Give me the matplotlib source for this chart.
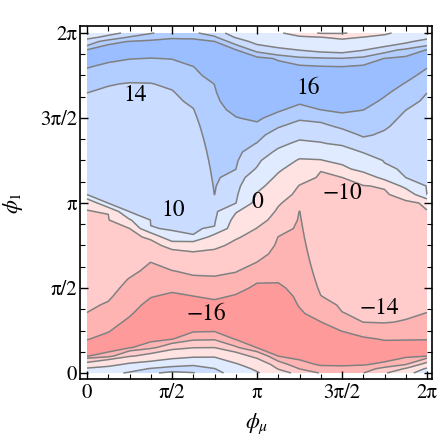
import numpy as np
import matplotlib
matplotlib.use('Agg')
import matplotlib.pyplot as plt
from matplotlib.ticker import FixedLocator

PI = np.pi

# grid rows: phi_1 / pi, from bottom (0) to top (2)
phi1_over_pi = [0, 0.025, 0.05, 0.1, 0.15, 0.2, 0.25, 0.3, 0.35, 0.4, 0.45,
                0.5, 0.55, 0.6, 0.65, 0.7, 0.75, 0.8, 0.85, 0.9, 0.95, 1.0,
                1.05, 1.1, 1.15, 1.2, 1.25, 1.3, 1.35, 1.4, 1.45, 1.5, 1.55,
                1.6, 1.65, 1.7, 1.75, 1.8, 1.85, 1.9, 1.95, 1.975, 2.0]

# grid columns: phi_mu / pi
phimu_over_pi = [0, 0.125, 0.25, 0.375, 0.5, 0.625, 0.75, 0.875, 1.0,
                 1.125, 1.25, 1.375, 1.5, 1.625, 1.75, 1.875, 2.0]

# values, one list per phi_mu column (bottom -> top)
mu_0_8 = [5, 1.5, -8, -16.1, -17, -15.9, -15.35, -14.7, -14.04, -13.69, -13.37,
          -13.04, -12.71, -12.38, -12.06, -11.73, -11.4, -11.08, -10.75, -10.42,
          -10.1, -9.5, 10.1, 10.32, 10.65, 10.99, 11.33, 11.66, 12.0, 12.34,
          12.67, 13.0, 13.35, 13.68, 14.02, 14.72, 15.4, 16.1, 17, 16.1, 12,
          8.54, 5]
mu_1_8 = [8, 3.75, -3, -15.2, -16.9, -16.6, -15.84, -15.29, -14.74, -14.19,
          -13.75, -13.36, -12.97, -12.57, -12.18, -11.79, -11.4, -11.01, -10.7,
          -10.4, -9.8, 10.3, 10.35, 10.58, 10.86, 11.15, 11.44, 11.73, 12.02,
          12.31, 12.59, 12.88, 13.17, 13.46, 13.75, 14.09, 14.83, 15.57, 16.39,
          16.67, 15.6, 11.25, 8.5]
mu_2_8 = [10.8, 7.2, 1.9, -10.67, -16.2, -16.8, -17.08, -16.35, -15.78, -15.37,
          -14.95, -14.54, -14.12, -13.51, -12.82, -12.12, -11.43, -10.73, -10.04,
          -1, 10.3, 10.4, 10.61, 10.87, 11.12, 11.37, 11.63, 11.88, 12.13, 12.39,
          12.64, 12.9, 13.15, 13.4, 13.66, 13.91, 14.5, 15.27, 16.06, 17, 16.06,
          14.33, 11]
mu_3_8 = [13.5, 10.5, 5, -8, -14.8, -16.6, -17.2, -17.6, -17.08, -16.49, -15.92,
          -15.44, -14.97, -14.5, -14.03, -12.55, -11.0, -9.5, 9.9, 10.2, 10.4,
          10.64, 10.87, 11.11, 11.35, 11.58, 11.82, 12.06, 12.29, 12.53, 12.76,
          13.0, 13.24, 13.47, 13.71, 13.94, 14.54, 15.25, 15.96, 16.84, 16.26,
          15.36, 13.8]
mu_4_8 = [14.8, 12.2, 7.86, -3.75, -12, -16.1, -16.6, -17.2, -17.59, -16.96,
          -16.33, -15.64, -14.86, -14.09, -12.64, -11.1, -9, 9.5, 10.15, 10.38,
          10.62, 10.85, 11.08, 11.32, 11.55, 11.78, 12.01, 12.25, 12.48, 12.71,
          12.95, 13.18, 13.41, 13.64, 13.88, 14.28, 14.86, 15.45, 16.05, 16.86,
          16.33, 15.85, 15]
mu_5_8 = [14.2, 12.14, 9.33, -1.58, -10.29, -14.57, -16.29, -17.07, -17.47,
          -16.76, -16.04, -15.27, -14.5, -13.48, -12.0, -10.52, -8.5, 9.9, 10.23,
          10.5, 10.77, 11.03, 11.3, 11.56, 11.83, 12.09, 12.36, 12.63, 12.89,
          13.16, 13.42, 13.69, 13.95, 14.33, 14.74, 15.14, 15.55, 15.95, 16.7,
          17.11, 16.33, 15.78, 14.5]
mu_6_8 = [11.5, 10.2, 6.82, -1.05, -10.1, -14.4, -16.22, -16.96, -17.27, -16.47,
          -15.72, -15.04, -14.36, -13.43, -12.21, -11.0, -9.17, -4.44, 9.7, 10.77,
          11.61, 12.71, 14.03, 14.16, 14.32, 14.47, 14.62, 14.77, 14.93, 15.08,
          15.23, 15.39, 15.54, 15.69, 15.85, 16.02, 16.62, 17.24, 17.33, 16.69,
          16.04, 14.5, 12.5]
mu_7_8 = [8, 4.6, 1.2, -7, -13.67, -16.13, -16.7, -17.27, -17.36, -16.77, -16.17,
          -15.45, -14.68, -13.88, -12.88, -11.88, -10.88, -9.62, -6.35, -3.08,
          0.71, 10.23, 11.2, 12.17, 13.14, 14.04, 14.35, 14.67, 14.98, 15.3,
          15.61, 15.93, 16.38, 16.88, 17.38, 17.88, 17.62, 17.12, 16.62, 16.12,
          12.8, 9.63, 7.5]
mu_8_8 = [1, -1.8, -5.2, -11.82, -16.08, -16.5, -16.94, -17.39, -17.72, -17.25,
          -16.79, -16.33, -15.75, -14.9, -14.05, -13.09, -12.11, -11.14, -10.17,
          -8.0, -5.57, -3.14, -0.71, 2.5, 6.04, 9.58, 11.2, 12.56, 13.92, 14.8,
          15.65, 16.29, 16.79, 17.29, 17.79, 17.71, 17.21, 16.71, 16.6, 13.2,
          8.27, 6.63, 5]
mu_9_8 = [-7, -10.4, -12.67, -16.05, -16.46, -16.88, -17.29, -17.7, -17.48,
          -17.07, -16.66, -16.24, -15.85, -15.49, -15.13, -14.77, -14.4, -14.04,
          -13.03, -11.94, -10.84, -9.39, -6.82, -4.24, -1.67, 1.36, 5.23, 9.09,
          11.18, 12.73, 14.2, 15.33, 16.26, 16.89, 17.52, 17.85, 17.22, 16.59,
          15.8, 11.33, 6.32, 3.91, 1.5]
mu_10_8 = [-12, -14.08, -15.5, -16.41, -16.92, -17.42, -17.26, -16.74, -16.22,
           -15.9, -15.73, -15.56, -15.4, -15.23, -15.06, -14.89, -14.72, -14.55,
           -14.39, -14.22, -14.05, -13.04, -11.68, -10.32, -7.5, -4.23, -0.96,
           3.75, 9.06, 11.33, 12.95, 14.38, 15.44, 16.34, 17.07, 17.8, 17.07,
           16.34, 14.71, 9.9, 4.33, 1.5, -5]
mu_11_8 = [-14.2, -15.48, -16.16, -16.72, -17.27, -17.16, -16.58, -16.02, -15.35,
           -14.69, -14.04, -13.75, -13.48, -13.21, -12.94, -12.67, -12.4, -12.13,
           -11.86, -11.59, -11.3, -11.15, -11.0, -10.85, -10.7, -9.7, -0.5, 4.71,
           9.71, 11.6, 13.3, 14.77, 16.04, 16.7, 17.37, 17.55, 16.86, 16.16,
           14.38, 8.67, 3.0, 0.17, -11]
mu_12_8 = [-14.6, -15.59, -16.19, -16.86, -17.28, -16.62, -15.94, -15.0, -14.06,
           -13.77, -13.52, -13.27, -13.02, -12.77, -12.53, -12.28, -12.03, -11.78,
           -11.53, -11.28, -11.04, -10.79, -10.54, -10.29, -10.04, -3, 2.89, 7.37,
           10.82, 12.82, 14.44, 15.5, 16.34, 16.98, 17.61, 17.35, 16.71, 16.08,
           14.13, 8, 2.33, -1.88, -11]
mu_13_8 = [-14.05, -15.23, -16.13, -16.87, -17.0, -16.26, -15.15, -13.97, -13.73,
           -13.49, -13.25, -13.01, -12.77, -12.53, -12.28, -12.04, -11.8, -11.56,
           -11.32, -11.08, -10.84, -10.6, -10.35, -10.2, -7, 4, 6.74, 10.31,
           12.92, 14.33, 14.9, 15.47, 16.04, 16.7, 17.37, 17.58, 16.94, 16.3,
           14.88, 9.8, 3.46, 0.19, -7]
mu_14_8 = [-11, -13.13, -15.67, -16.73, -16.69, -15.87, -14.73, -13.91, -13.67,
           -13.42, -13.17, -12.93, -12.68, -12.43, -12.19, -11.94, -11.7, -11.45,
           -11.2, -10.96, -10.8, -10.7, -10.6, -9.6, 3.4, 9.2, 10.3, 11.42, 12.52,
           13.61, 14.31, 14.78, 15.25, 15.72, 16.28, 16.95, 17.38, 16.71, 16.04,
           13.0, 5.6, 2.2, -1.5]
mu_15_8 = [-3, -9.6, -14.05, -16.4, -16.75, -15.89, -15.0, -14.1, -13.76, -13.48,
           -13.21, -12.94, -12.66, -12.39, -12.11, -11.84, -11.56, -11.29, -11.1,
           -11.0, -10.9, -10.8, -8, 3.33, 10.03, 10.56, 11.06, 11.56, 12.06,
           12.56, 13.06, 13.56, 14.04, 14.64, 15.25, 15.86, 16.6, 17.21, 16.42,
           14.67, 8.95, 5.97, 3]
mu_16_8 = mu_0_8  # periodic in phi_mu

levels = [-16, -14, -10, 0, 10, 14, 16]
band_colors = ['#ff9a9a', '#ffb4b4', '#ffcbcb', '#ffe3e3',
               '#e1ebff', '#cadcff', '#b2cdff', '#9abeff']

# text labels placed on the plot (value, phi_mu/pi, phi_1/pi)
label_text = ['14', '16', '10', '0', '\u221210', '\u221214', '\u221216']
label_mu = [0.282, 1.30, 0.506, 1.0, 1.50, 1.718, 0.70]
label_phi1 = [1.635, 1.676, 0.959, 1.006, 1.059, 0.382, 0.347]

xtick_labels = ['0', '\u03c0/2', '\u03c0', '3\u03c0/2', '2\u03c0']
ytick_labels = ['0', '\u03c0/2', '\u03c0', '3\u03c0/2', '2\u03c0']

plt.rcParams['font.family'] = 'STIXGeneral'
plt.rcParams['mathtext.fontset'] = 'stix'
plt.rcParams['contour.negative_linestyle'] = 'solid'

fig = plt.figure(figsize=(4.4, 4.4), dpi=100)
ax = fig.add_axes([80 / 440, 1 - 379 / 440, 352 / 440, 353 / 440])

X = np.array(phimu_over_pi) * PI
Y = np.array(phi1_over_pi) * PI
Z = np.column_stack([mu_0_8, mu_1_8, mu_2_8, mu_3_8, mu_4_8, mu_5_8, mu_6_8,
                     mu_7_8, mu_8_8, mu_9_8, mu_10_8, mu_11_8, mu_12_8,
                     mu_13_8, mu_14_8, mu_15_8, mu_16_8])

ax.contourf(X, Y, Z, levels=[-40] + levels + [40], colors=band_colors)
ax.contour(X, Y, Z, levels=levels, colors='#808080', linewidths=1.1,
           linestyles='solid')

for txt, m, p in zip(label_text, label_mu, label_phi1):
    ax.text(m * PI, p * PI, txt, fontsize=17, ha='center', va='center')

ax.set_xlim(-7 / 170 * PI, 2 * PI + 5 / 170 * PI)
ax.set_ylim(-6 / 170 * PI, 2 * PI + 7 / 170 * PI)

major = [0, PI / 2, PI, 3 * PI / 2, 2 * PI]
minor = [k * PI / 8 for k in range(17)]
ax.xaxis.set_major_locator(FixedLocator(major))
ax.yaxis.set_major_locator(FixedLocator(major))
ax.xaxis.set_minor_locator(FixedLocator(minor))
ax.yaxis.set_minor_locator(FixedLocator(minor))
ax.set_xticklabels(xtick_labels)
ax.set_yticklabels(ytick_labels)

ax.tick_params(which='both', direction='in', top=True, right=True,
               labelsize=15, colors='black')
ax.tick_params(which='major', length=6, width=1.0)
ax.tick_params(which='minor', length=3.5, width=0.8)
ax.tick_params(axis='x', pad=3)
ax.tick_params(axis='y', pad=2)
for sp in ax.spines.values():
    sp.set_linewidth(1.2)

fig.text(257 / 440, 1 - 424 / 440, r'$\phi_\mu$', fontsize=16,
         ha='center', va='center')
fig.text(13 / 440, 1 - 203 / 440, r'$\phi_1$', fontsize=16,
         ha='center', va='center', rotation=90)

fig.savefig('out.png', dpi=100)
